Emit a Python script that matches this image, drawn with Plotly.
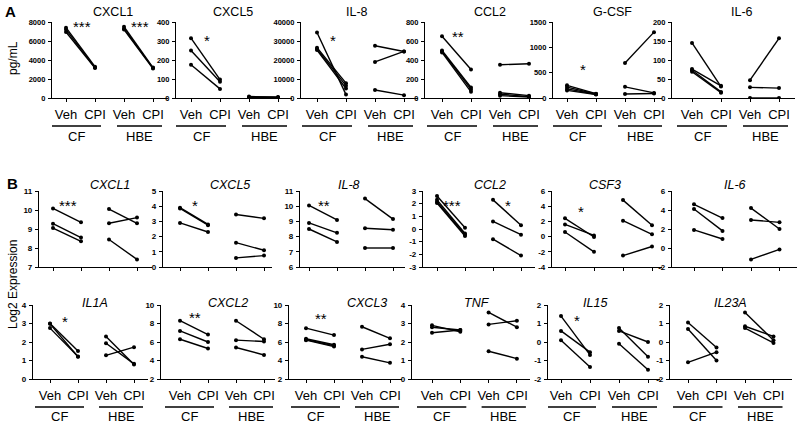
import plotly.graph_objects as go

# ---------------- DATA ----------------
conditions = ["Veh", "CPI", "Veh", "CPI"]
groups = ["CF", "HBE"]

# Panel A (pg/mL)
A_CXCL1 = {"CF_veh": [7400, 7200, 6950], "CF_cpi": [3300, 3200, 3150],
           "HBE_veh": [7500, 7300, 7200], "HBE_cpi": [3200, 3150, 3100]}
A_CXCL5 = {"CF_veh": [315, 250, 175], "CF_cpi": [97, 85, 48],
           "HBE_veh": [8, 4, 2], "HBE_cpi": [5, 3, 2]}
A_IL8 = {"CF_veh": [34500, 26500, 25800, 25200], "CF_cpi": [1800, 7800, 6500, 5000],
         "HBE_veh": [27500, 19000, 4200], "HBE_cpi": [24500, 24500, 1500]}
A_CCL2 = {"CF_veh": [650, 500, 490, 480], "CF_cpi": [300, 110, 90, 65],
          "HBE_veh": [350, 55, 40, 25], "HBE_cpi": [360, 25, 15, 10]}
A_GCSF = {"CF_veh": [250, 215, 180, 150], "CF_cpi": [85, 80, 75, 70],
          "HBE_veh": [690, 220, 80], "HBE_cpi": [1300, 100, 90]}
A_IL6 = {"CF_veh": [145, 76, 73, 69], "CF_cpi": [30, 32, 16, 14],
         "HBE_veh": [47, 28, 0], "HBE_cpi": [157, 26, 0]}

# Panel B (Log2 expression)
B_CXCL1 = {"CF_veh": [10.08, 9.28, 9.05], "CF_cpi": [9.35, 8.55, 8.35],
           "HBE_veh": [10.05, 9.3, 8.45], "HBE_cpi": [9.3, 9.6, 7.4]}
B_CXCL5 = {"CF_veh": [3.9, 3.85, 2.9], "CF_cpi": [2.8, 2.75, 2.3],
           "HBE_veh": [3.45, 1.6, 0.6], "HBE_cpi": [3.2, 1.1, 0.75]}
B_IL8 = {"CF_veh": [10.05, 8.9, 8.5], "CF_cpi": [9.1, 8.25, 7.65],
         "HBE_veh": [10.5, 8.55, 7.25], "HBE_cpi": [9.15, 8.45, 7.25]}
B_CCL2 = {"CF_veh": [2.6, 2.3, 2.15, 2.05], "CF_cpi": [0.1, -0.35, -0.45, -0.55],
          "HBE_veh": [2.3, 0.6, -0.8], "HBE_cpi": [0.3, -0.45, -2.1]}
B_CSF3 = {"CF_veh": [2.4, 1.6, 0.6], "CF_cpi": [-0.05, 0.15, -2.0],
          "HBE_veh": [4.8, 2.1, -2.5], "HBE_cpi": [1.5, 0.3, -1.3]}
B_IL6 = {"CF_veh": [4.6, 4.1, 1.9], "CF_cpi": [3.15, 1.8, 0.95],
         "HBE_veh": [4.2, 2.95, -1.2], "HBE_cpi": [2.0, 2.7, -0.15]}
B_IL1A = {"CF_veh": [3.0, 2.98, 2.75], "CF_cpi": [1.52, 1.2, 1.22],
          "HBE_veh": [2.3, 1.93, 1.28], "HBE_cpi": [0.78, 0.82, 1.72]}
B_CXCL2 = {"CF_veh": [8.3, 7.2, 6.3], "CF_cpi": [6.8, 6.0, 5.3],
           "HBE_veh": [8.3, 6.2, 5.4], "HBE_cpi": [6.3, 6.05, 4.6]}
B_CXCL3 = {"CF_veh": [7.5, 6.35, 6.25, 6.2], "CF_cpi": [6.75, 5.7, 5.6, 5.5],
           "HBE_veh": [7.65, 5.2, 4.4], "HBE_cpi": [6.4, 5.75, 3.75]}
B_TNF = {"CF_veh": [2.9, 2.8, 2.5], "CF_cpi": [2.55, 2.65, 2.65],
         "HBE_veh": [3.6, 2.95, 1.5], "HBE_cpi": [2.8, 3.15, 1.1]}
B_IL15 = {"CF_veh": [1.4, 0.6, 0.1], "CF_cpi": [-0.7, -0.55, -1.35],
          "HBE_veh": [0.75, 0.6, -0.1], "HBE_cpi": [-0.8, 0.0, -1.5]}
B_IL23A = {"CF_veh": [1.05, 0.7, -1.1], "CF_cpi": [-0.3, -1.0, -0.55],
           "HBE_veh": [1.6, 0.85, 0.75], "HBE_cpi": [0.1, 0.3, -0.05]}

titles = ["CXCL1", "CXCL5", "IL-8", "CCL2", "G-CSF", "IL-6",
          "CXCL1", "CXCL5", "IL-8", "CCL2", "CSF3", "IL-6",
          "IL1A", "CXCL2", "CXCL3", "TNF", "IL15", "IL23A"]
datasets = [A_CXCL1, A_CXCL5, A_IL8, A_CCL2, A_GCSF, A_IL6,
            B_CXCL1, B_CXCL5, B_IL8, B_CCL2, B_CSF3, B_IL6,
            B_IL1A, B_CXCL2, B_CXCL3, B_TNF, B_IL15, B_IL23A]
# y ranges [min, max, step]
y_ranges = [[0, 8000, 2000], [0, 400, 100], [0, 40000, 10000], [0, 800, 200], [0, 1500, 500], [0, 200, 50],
            [7, 11, 1], [0, 5, 1], [6, 11, 1], [-3, 3, 1], [-4, 6, 2], [-2, 6, 2],
            [0, 4, 1], [2, 10, 2], [2, 10, 2], [0, 4, 1], [-2, 2, 1], [-2, 2, 1]]
# significance marks: (panel index, group, text)
stars = [(0, "CF", "***"), (0, "HBE", "***"), (1, "CF", "*"), (2, "CF", "*"), (3, "CF", "**"), (4, "CF", "*"),
         (6, "CF", "***"), (7, "CF", "*"), (8, "CF", "**"), (9, "CF", "***"), (9, "HBE", "*"), (10, "CF", "*"),
         (12, "CF", "*"), (13, "CF", "**"), (14, "CF", "**"), (16, "CF", "*")]

# ---------------- LAYOUT GEOMETRY (pixels in the 800x425 window) ----------------
W, H = 800, 425
def px(x): return x / W
def py(y): return 1 - y / H

# axis_x, first_point_x, spacing, end_x, title_x
geom = [(52, 66, 29, 168, 113), (176, 191, 29, 292, 233), (301, 317, 29, 418, 357),
        (425, 442, 29, 543, 490), (553, 567, 29, 662, 612), (672, 692, 29, 795, 742),
        (39, 53, 28, 152, 110), (163, 180, 28, 272, 230), (300, 309, 28, 405, 349),
        (423, 437, 28, 535, 490), (552, 565, 29, 662, 605), (672, 694, 28.5, 797, 735),
        (33, 50, 28, 148, 95), (161, 180, 28, 275, 228), (289, 306, 28, 402, 367),
        (412, 432, 28.3, 530, 477), (548, 561, 29, 660, 595), (670, 688, 28.5, 792, 730)]
rows = [dict(top=22, bot=98, ty=12, sy=27, lab=True, ul=126, gy=137, italic=False),
        dict(top=191, bot=267, ty=185, sy=205, lab=False, ul=None, gy=None, italic=True),
        dict(top=305, bot=379, ty=303, sy=320, lab=True, ul=407, gy=416, italic=True)]
star_y_override = {1: 41, 2: 41, 3: 37, 4: 70, 10: 211, 12: 321, 13: 317, 14: 318}

FONT = "Liberation Sans, Arial, sans-serif"
fig = go.Figure()
layout = dict(template="none", width=W, height=H, margin=dict(l=0, r=0, t=0, b=0, pad=0),
              paper_bgcolor="white", plot_bgcolor="white", showlegend=False,
              font=dict(family=FONT, color="black"))
annotations = []
shapes = []

for k in range(18):
    n = k + 1
    ax, p1, sp, end, tx = geom[k]
    row = rows[k // 6]
    d = datasets[k]
    xa = "x" if n == 1 else f"x{n}"
    ya = "y" if n == 1 else f"y{n}"
    def tox(p, p1=p1, sp=sp):
        return 1 + (p - p1) / sp
    for gi, g in enumerate(groups):
        veh, cpi = d[g + "_veh"], d[g + "_cpi"]
        xs, ys = [], []
        for a, b in zip(veh, cpi):
            xs += [1 + 2 * gi, 2 + 2 * gi, None]
            ys += [a, b, None]
        fig.add_trace(go.Scatter(x=xs, y=ys, mode="lines+markers", xaxis=xa, yaxis=ya,
                                 line=dict(color="black", width=1.4),
                                 marker=dict(color="black", size=4), hoverinfo="skip"))
    lo, hi, st = y_ranges[k]
    tv = []
    v = lo
    while v <= hi + 1e-9:
        tv.append(v)
        v += st
    layout["xaxis" if n == 1 else f"xaxis{n}"] = dict(
        domain=[px(ax), px(end)], range=[tox(ax), tox(end)], anchor=ya, automargin=False,
        showline=True, linecolor="black", linewidth=1.2, showgrid=False, zeroline=False,
        ticks="outside", ticklen=3, tickwidth=1, tickcolor="black",
        tickvals=[1, 2, 3, 4], ticktext=conditions if row["lab"] else ["", "", "", ""],
        tickfont=dict(size=13, family=FONT, color="black"), ticklabelstandoff=1, fixedrange=True)
    layout["yaxis" if n == 1 else f"yaxis{n}"] = dict(
        domain=[py(row["bot"]), py(row["top"])], range=[lo, hi], anchor=xa, automargin=False,
        showline=True, linecolor="black", linewidth=1.2, showgrid=False, zeroline=False,
        ticks="outside", ticklen=3, tickwidth=1, tickcolor="black",
        tickvals=tv, ticktext=[str(t) for t in tv],
        tickfont=dict(size=7.5 if k < 6 else 8, family=FONT, weight="bold", color="black"),
        ticklabelstandoff=1, fixedrange=True)
    annotations.append(dict(x=px(tx), y=py(row["ty"]), xref="paper", yref="paper",
                            text=f"<i>{titles[k]}</i>" if row["italic"] else titles[k],
                            showarrow=False, font=dict(size=12.5, family=FONT, color="black"),
                            xanchor="center", yanchor="middle"))
    if row["ul"] is not None:
        segs = {"CF": (tox(p1 - 15), tox(p1 + sp + 6)), "HBE": (tox(p1 + 2 * sp - 7), tox(p1 + 3 * sp + 9))}
        for g in groups:
            x0, x1 = segs[g]
            shapes.append(dict(type="line", xref=xa, yref="paper", x0=x0, x1=x1,
                               y0=py(row["ul"]), y1=py(row["ul"]), line=dict(color="black", width=1.3)))
            annotations.append(dict(x=(x0 + x1) / 2, y=py(row["gy"]), xref=xa, yref="paper", text=g,
                                    showarrow=False, font=dict(size=13, family=FONT, color="black"),
                                    xanchor="center", yanchor="middle"))

for (k, g, t) in stars:
    row = rows[k // 6]
    xa = "x" if k == 0 else f"x{k+1}"
    xc = 1.55 if g == "CF" else 3.55
    sy = star_y_override.get(k, row["sy"])
    if k == 9 and g == "HBE":
        sy = row["sy"]
    annotations.append(dict(x=xc, y=py(sy), xref=xa, yref="paper", text=t, showarrow=False,
                            font=dict(size=15, family=FONT, color="black"), xanchor="center", yanchor="middle"))

annotations.append(dict(x=px(10), y=py(12), xref="paper", yref="paper", text="<b>A</b>", showarrow=False,
                        font=dict(size=15, family=FONT, color="black"), xanchor="center", yanchor="middle"))
annotations.append(dict(x=px(12), y=py(183), xref="paper", yref="paper", text="<b>B</b>", showarrow=False,
                        font=dict(size=15, family=FONT, color="black"), xanchor="center", yanchor="middle"))
annotations.append(dict(x=px(13), y=py(58), xref="paper", yref="paper", text="pg/mL", showarrow=False,
                        textangle=-90, font=dict(size=12, family=FONT, color="black"), xanchor="center", yanchor="middle"))
annotations.append(dict(x=px(13), y=py(285), xref="paper", yref="paper", text="Log2 Expression", showarrow=False,
                        textangle=-90, font=dict(size=12, family=FONT, color="black"), xanchor="center", yanchor="middle"))

layout["annotations"] = annotations
layout["shapes"] = shapes
fig.update_layout(**layout)
# remove the browser's default page margin so the 800x425 figure fills the window exactly
fig.write_html("out.html", config={"displayModeBar": False},
               post_script="document.body.style.margin='0px';document.body.style.overflow='hidden';")
